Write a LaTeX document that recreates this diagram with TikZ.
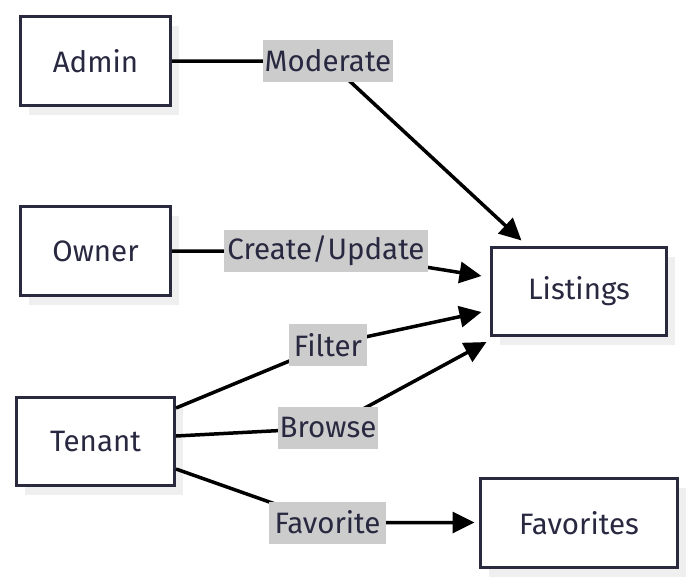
\documentclass[tikz,border=0pt]{standalone}
\usepackage{fontspec}
\setmainfont{Fira Sans}
\usetikzlibrary{arrows.meta,shadows,calc}
\definecolor{boxc}{RGB}{42,42,62}
\definecolor{txtc}{RGB}{40,40,64}
\definecolor{lblbg}{RGB}{204,204,204}
\definecolor{shad}{RGB}{239,239,239}
\pgfdeclarelayer{fg}
\pgfsetlayers{main,fg}
\begin{document}
\begin{tikzpicture}[x=1pt,y=-1pt,
  box/.style={draw=boxc,line width=3pt,fill=white,text=txtc,inner sep=0pt,
    font=\fontsize{29.5}{32}\selectfont,
    drop shadow={shadow xshift=8pt,shadow yshift=-9pt,fill=shad,opacity=1}},
  lbl/.style={fill=lblbg,text=txtc,inner sep=0pt,font=\fontsize{29.5}{32}\selectfont,minimum height=42pt},
  conn/.style={line width=3.5pt,black},
  tip/.style={conn,-{Triangle[length=22pt,width=21pt]}}]
\useasboundingbox (0,0) rectangle (693,584);
\node[box,minimum width=150pt,minimum height=89pt] (admin) at (95.5,61) {Admin};
\node[box,minimum width=150pt,minimum height=89pt] (owner) at (95.5,251) {Owner};
\node[box,minimum width=158pt,minimum height=88pt] (tenant) at (95.5,441.5) {Tenant};
\node[box,minimum width=175pt,minimum height=88pt] (listings) at (579,291.5) {Listings};
\node[box,minimum width=197pt,minimum height=89pt] (favs) at (579,523) {Favorites};
\begin{pgfonlayer}{fg}
\node[lbl,minimum width=130pt] (mod) at (328,61) {Moderate};
\node[lbl,minimum width=204pt] (cu) at (326,251) {Create/Update};
\node[lbl,minimum width=78pt] (filt) at (328,345) {Filter};
\node[lbl,minimum width=100pt] (brow) at (328,428) {Browse};
\node[lbl,minimum width=117pt] (fav) at (327.5,522.5) {Favorite};
\end{pgfonlayer}
\draw[tip] (admin.east) -- (mod.center) -- ($(listings.north west)+(31.5,-5.5)$);
\draw[tip] (owner.east) -- (cu.center) -- ($(listings.west)+(-8.5,-15.5)$);
\draw[tip] ($(tenant.east)+(0,-33.5)$) -- (filt.center) -- ($(listings.west)+(-8.5,20.5)$);
\draw[tip] ($(tenant.east)+(0,-5.5)$) -- (brow.center) -- ($(listings.west)+(-3.5,50.5)$);
\draw[tip] ($(tenant.east)+(0,27.5)$) -- (fav.center) -- ($(favs.west)+(-4.5,-0.5)$);
\end{tikzpicture}
\end{document}
